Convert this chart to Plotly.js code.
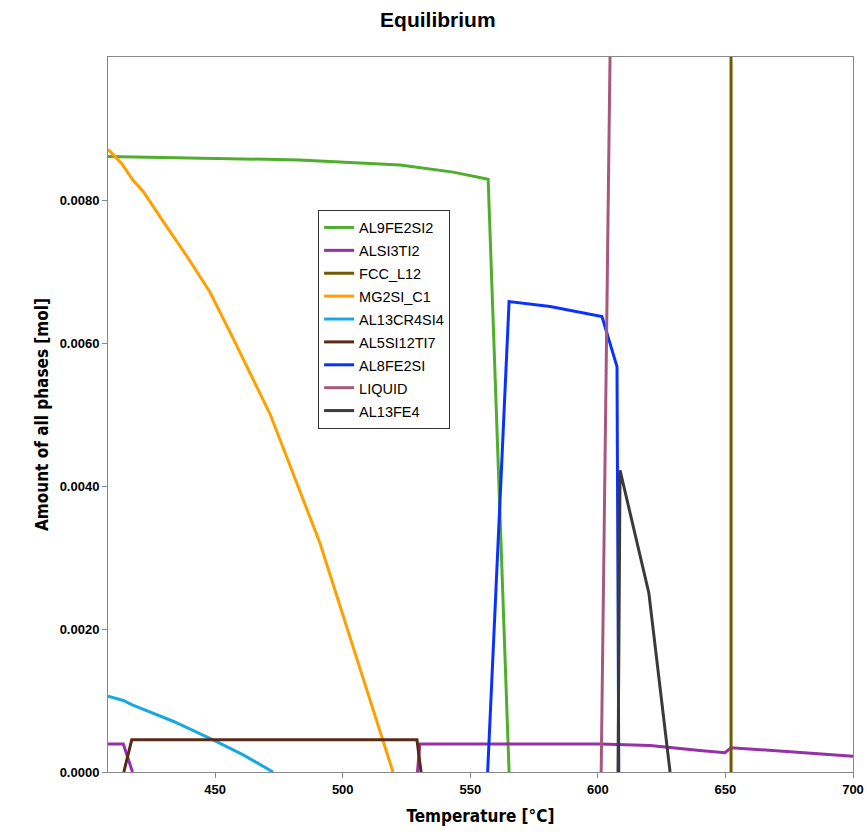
<!DOCTYPE html>
<html>
<head>
<meta charset="utf-8">
<script src="https://cdn.plot.ly/plotly-3.0.1.min.js"></script>
<style>html,body{margin:0;padding:0;background:#fff;}#chart{width:867px;height:835px;}</style>
</head>
<body>
<div id="chart"></div>
<script>
// Phase names (legend order)
const phaseNames = ["AL9FE2SI2", "ALSI3TI2", "FCC_L12", "MG2SI_C1", "AL13CR4SI4", "AL5SI12TI7", "AL8FE2SI", "LIQUID", "AL13FE4"];

// Temperature [°C] and amount [mol] for each phase
const AL9FE2SI2_T = [408, 444, 483, 522.5, 543.3, 557, 565.2];
const AL9FE2SI2_Y = [0.00861, 0.00859, 0.00856, 0.00849, 0.00839, 0.00829, 0];

// null = phase absent (amount 0 along the axis, not drawn)
const ALSI3TI2_T = [408, 414, 417.6, null, 529.3, 530.2, 600.9, 620.5, 640, 649.8, 652.2, 700];
const ALSI3TI2_Y = [0.00039, 0.00039, 0, null, 0, 0.00039, 0.00039, 0.00037, 0.00030, 0.00027, 0.00034, 0.00022];

const FCC_L12_T = [652.2, 652.2];
const FCC_L12_Y = [0, 0.0102];

const MG2SI_C1_T = [408, 413.6, 417.5, 421.8, 429.6, 439, 448, 456.7, 471.6, 491.1, 519.7];
const MG2SI_C1_Y = [0.00871, 0.0085, 0.00829, 0.00812, 0.0077, 0.00721, 0.00671, 0.00609, 0.0050, 0.0032, 0];

const AL13CR4SI4_T = [408, 414, 417.5, 433.5, 449.2, 461, 472.7];
const AL13CR4SI4_Y = [0.00106, 0.0010, 0.00094, 0.00071, 0.00045, 0.00024, 0];

const AL5SI12TI7_T = [414.2, 417.3, 529.1, 530.7];
const AL5SI12TI7_Y = [0, 0.00045, 0.00045, 0];

const AL8FE2SI_T = [556.8, 565.2, 581.3, 601.6, 607.5, 608.2];
const AL8FE2SI_Y = [0, 0.00658, 0.00651, 0.00637, 0.00567, 0];

const LIQUID_T = [601.3, 604.8];
const LIQUID_Y = [0, 0.0101];

const AL13FE4_T = [607.9, 608.7, 620.0, 628.3];
const AL13FE4_Y = [0, 0.00422, 0.0025, 0];

// Axis ticks
const yTickVals = [0, 0.002, 0.004, 0.006, 0.008];
const yTickText = ["0.0000", "0.0020", "0.0040", "0.0060", "0.0080"];
const xTickVals = [450, 500, 550, 600, 650, 700];

const phaseColors = ["#4fae2c", "#9530a6", "#6e5a00", "#ffa000", "#18a8e0", "#5a2a16", "#0a32ff", "#a8587a", "#3a3a3a"];

const xs = [AL9FE2SI2_T, ALSI3TI2_T, FCC_L12_T, MG2SI_C1_T, AL13CR4SI4_T, AL5SI12TI7_T, AL8FE2SI_T, LIQUID_T, AL13FE4_T];
const ys = [AL9FE2SI2_Y, ALSI3TI2_Y, FCC_L12_Y, MG2SI_C1_Y, AL13CR4SI4_Y, AL5SI12TI7_Y, AL8FE2SI_Y, LIQUID_Y, AL13FE4_Y];

const traces = phaseNames.map((n, i) => ({
  type: "scatter",
  mode: "lines",
  name: '<span style="font-size:14.5px">' + n + '</span>',
  x: xs[i],
  y: ys[i],
  connectgaps: false,
  line: {color: phaseColors[i], width: 3}
}));

const axisFont = {family: "Liberation Sans, Arial, sans-serif", size: 13, color: "#000", weight: "bold"};
const titleFont = {family: "Liberation Sans Narrow, Arial Narrow, DejaVu Sans Condensed, sans-serif", size: 17, color: "#000", weight: "bold"};

const layout = {
  width: 867,
  height: 835,
  margin: {l: 108, r: 14, t: 57, b: 63},
  paper_bgcolor: "#fff",
  plot_bgcolor: "#fff",
  title: {
    text: "Equilibrium",
    x: 0.505, xref: "container", xanchor: "center",
    y: 0.976, yref: "container", yanchor: "middle",
    font: {family: "Liberation Sans, Arial, sans-serif", size: 21, color: "#000", weight: "bold"}
  },
  xaxis: {
    title: {text: "Temperature [°C]", font: titleFont, standoff: 14},
    range: [408, 700],
    tickmode: "array", tickvals: xTickVals,
    ticks: "outside", ticklen: 5, tickcolor: "#888",
    showline: true, linecolor: "#888", linewidth: 1, mirror: true,
    showgrid: false, zeroline: false,
    tickfont: axisFont
  },
  yaxis: {
    title: {text: "Amount of all phases [mol]", font: titleFont, standoff: 6},
    range: [0, 0.01],
    tickmode: "array", tickvals: yTickVals, ticktext: yTickText,
    ticks: "outside", ticklen: 5, tickcolor: "#888",
    showline: true, linecolor: "#888", linewidth: 1, mirror: true,
    showgrid: false, zeroline: false,
    tickfont: axisFont
  },
  legend: {
    x: 0.282, y: 0.786, xanchor: "left", yanchor: "top",
    bgcolor: "#fff", bordercolor: "#333", borderwidth: 1,
    font: {family: "Liberation Sans, Arial, sans-serif", size: 15.3, color: "#000"},
    itemwidth: 30
  },
  showlegend: true
};

Plotly.newPlot("chart", traces, layout, {displayModeBar: false, staticPlot: true});
</script>
</body>
</html>
